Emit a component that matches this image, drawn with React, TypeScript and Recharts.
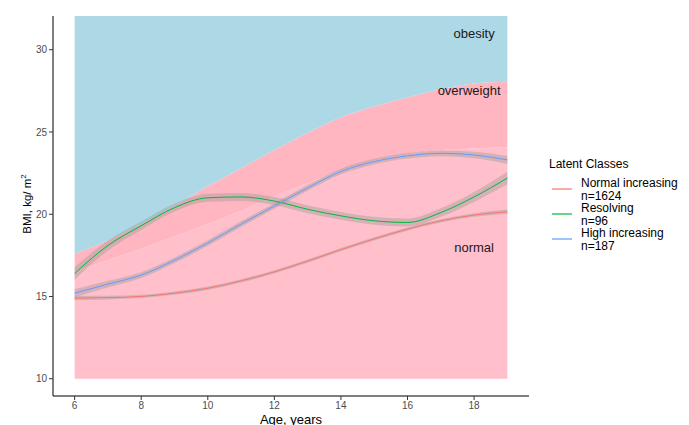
import {
  ComposedChart,
  Area,
  Line,
  XAxis,
  YAxis,
  ReferenceDot,
} from "recharts";

// age grid (years)
const ages = [6, 7, 8, 9, 10, 11, 12, 13, 14, 15, 16, 17, 18, 19];

// BMI reference bands
const bandFloor = 10;
const bandTop = 32.05;
const overweightCut = [16.5, 17.2, 17.9, 18.65, 19.4, 20.2, 21.1, 21.9, 22.65, 23.25, 23.65, 23.9, 24.0, 24.05];
const obesityCut = [17.6, 18.4, 19.4, 20.5, 21.7, 22.8, 23.9, 24.95, 25.9, 26.55, 27.1, 27.6, 27.95, 28.05];

// latent class trajectories
const normalIncreasing = [14.9, 14.93, 15.0, 15.2, 15.5, 15.95, 16.5, 17.15, 17.85, 18.5, 19.1, 19.6, 19.95, 20.15];
const resolving = [16.4, 18.1, 19.3, 20.4, 21.0, 21.05, 20.8, 20.3, 19.9, 19.6, 19.5, 20.1, 21.05, 22.2];
const highIncreasing = [15.2, 15.75, 16.3, 17.2, 18.25, 19.4, 20.5, 21.6, 22.6, 23.2, 23.55, 23.7, 23.6, 23.3];

// confidence band half widths
const ciNormal = [0.13, 0.11, 0.1, 0.1, 0.1, 0.1, 0.1, 0.1, 0.1, 0.1, 0.1, 0.1, 0.11, 0.13];
const ciResolving = [0.38, 0.3, 0.26, 0.24, 0.24, 0.24, 0.24, 0.24, 0.24, 0.24, 0.24, 0.26, 0.3, 0.38];
const ciHigh = [0.24, 0.2, 0.18, 0.17, 0.17, 0.17, 0.17, 0.17, 0.17, 0.17, 0.17, 0.18, 0.2, 0.24];

const bandLabels = ["obesity", "overweight", "normal"];
const bandLabelAge = [18, 17.85, 18];
const bandLabelBmi = [31, 27.5, 18];

const xTicks = [6, 8, 10, 12, 14, 16, 18];
const yTicks = [10, 15, 20, 25, 30];

const classNames = ["Normal increasing", "Resolving", "High increasing"];
const classCounts = ["n=1624", "n=96", "n=187"];
const classColors = ["#F8766D", "#00BA38", "#619CFF"];

const data = ages.map((age, i) => ({
  age,
  normal: [bandFloor, overweightCut[i]],
  overweight: [overweightCut[i], obesityCut[i]],
  obesity: [obesityCut[i], bandTop],
  ni: normalIncreasing[i],
  rs: resolving[i],
  hi: highIncreasing[i],
  niBand: [normalIncreasing[i] - ciNormal[i], normalIncreasing[i] + ciNormal[i]],
  rsBand: [resolving[i] - ciResolving[i], resolving[i] + ciResolving[i]],
  hiBand: [highIncreasing[i] - ciHigh[i], highIncreasing[i] + ciHigh[i]],
}));

const FONT = '"Liberation Sans", Arial, sans-serif';

function YTitle() {
  return (
    <text
      transform="translate(31,204) rotate(-90)"
      textAnchor="middle"
      fontSize={11.5}
      fill="#000"
    >
      BMI, kg/ m
      <tspan dy={-5} fontSize={8}>
        2
      </tspan>
    </text>
  );
}

function ClassLegend() {
  return (
    <div
      style={{
        position: "absolute",
        left: 549,
        top: 158,
        fontSize: 12,
        color: "#000",
        fontFamily: FONT,
      }}
    >
      <div style={{ lineHeight: "13px" }}>Latent Classes</div>
      <div style={{ marginTop: 6 }}>
        {classNames.map((name, i) => (
          <div
            key={name}
            style={{ display: "flex", alignItems: "center", height: 25 }}
          >
            <svg width={32} height={25}>
              <line x1={3} x2={23} y1={12} y2={12} stroke={classColors[i]} strokeWidth={1.2} />
            </svg>
            <div style={{ lineHeight: "12.5px" }}>
              <div>{name}</div>
              <div>{classCounts[i]}</div>
            </div>
          </div>
        ))}
      </div>
    </div>
  );
}

export default function App() {
  const series = [
    { key: "ni", band: "niBand" },
    { key: "rs", band: "rsBand" },
    { key: "hi", band: "hiBand" },
  ];
  return (
    <div
      style={{
        position: "absolute",
        left: 0,
        top: 0,
        width: 689,
        height: 425,
        background: "#fff",
        fontFamily: FONT,
      }}
    >
      <ComposedChart
        width={689}
        height={425}
        data={data}
        margin={{ top: 16, right: 160, left: 0, bottom: 0 }}
      >
        <XAxis
          dataKey="age"
          type="number"
          domain={[5.35, 19.65]}
          ticks={xTicks}
          allowDataOverflow
          height={29}
          tickSize={4}
          tickMargin={2}
          stroke="#000"
          tick={{ fill: "#4D4D4D", fontSize: 10 }}
          tickLine={{ stroke: "#333" }}
          label={{
            value: "Age, years",
            position: "insideBottom",
            offset: 1,
            fontSize: 13,
            fill: "#000",
          }}
        />
        <YAxis
          type="number"
          domain={[8.95, 32.05]}
          ticks={yTicks}
          allowDataOverflow
          width={53}
          tickSize={4}
          tickMargin={2}
          stroke="#000"
          tick={{ fill: "#4D4D4D", fontSize: 10 }}
          tickLine={{ stroke: "#333" }}
          label={<YTitle />}
        />
        <Area type="monotone" dataKey="normal" fill="#FFC0CB" fillOpacity={1} stroke="none" isAnimationActive={false} activeDot={false} />
        <Area type="monotone" dataKey="overweight" fill="#FFB6C1" fillOpacity={1} stroke="none" isAnimationActive={false} activeDot={false} />
        <Area type="monotone" dataKey="obesity" fill="#ADD8E6" fillOpacity={1} stroke="none" isAnimationActive={false} activeDot={false} />
        {series.map((s, i) => (
          <Line
            key={s.key}
            type="monotone"
            dataKey={s.key}
            stroke={classColors[i]}
            strokeWidth={1}
            dot={false}
            activeDot={false}
            isAnimationActive={false}
          />
        ))}
        {series.map((s) => (
          <Area
            key={s.band}
            type="monotone"
            dataKey={s.band}
            fill="#999999"
            fillOpacity={0.4}
            stroke="none"
            activeDot={false}
            isAnimationActive={false}
          />
        ))}
        {bandLabels.map((t, i) => (
          <ReferenceDot
            key={t}
            x={bandLabelAge[i]}
            y={bandLabelBmi[i]}
            r={0}
            fill="none"
            stroke="none"
            label={{ value: t, position: "center", fontSize: 13, fill: "#1A1A1A" }}
          />
        ))}
      </ComposedChart>
      <ClassLegend />
    </div>
  );
}
